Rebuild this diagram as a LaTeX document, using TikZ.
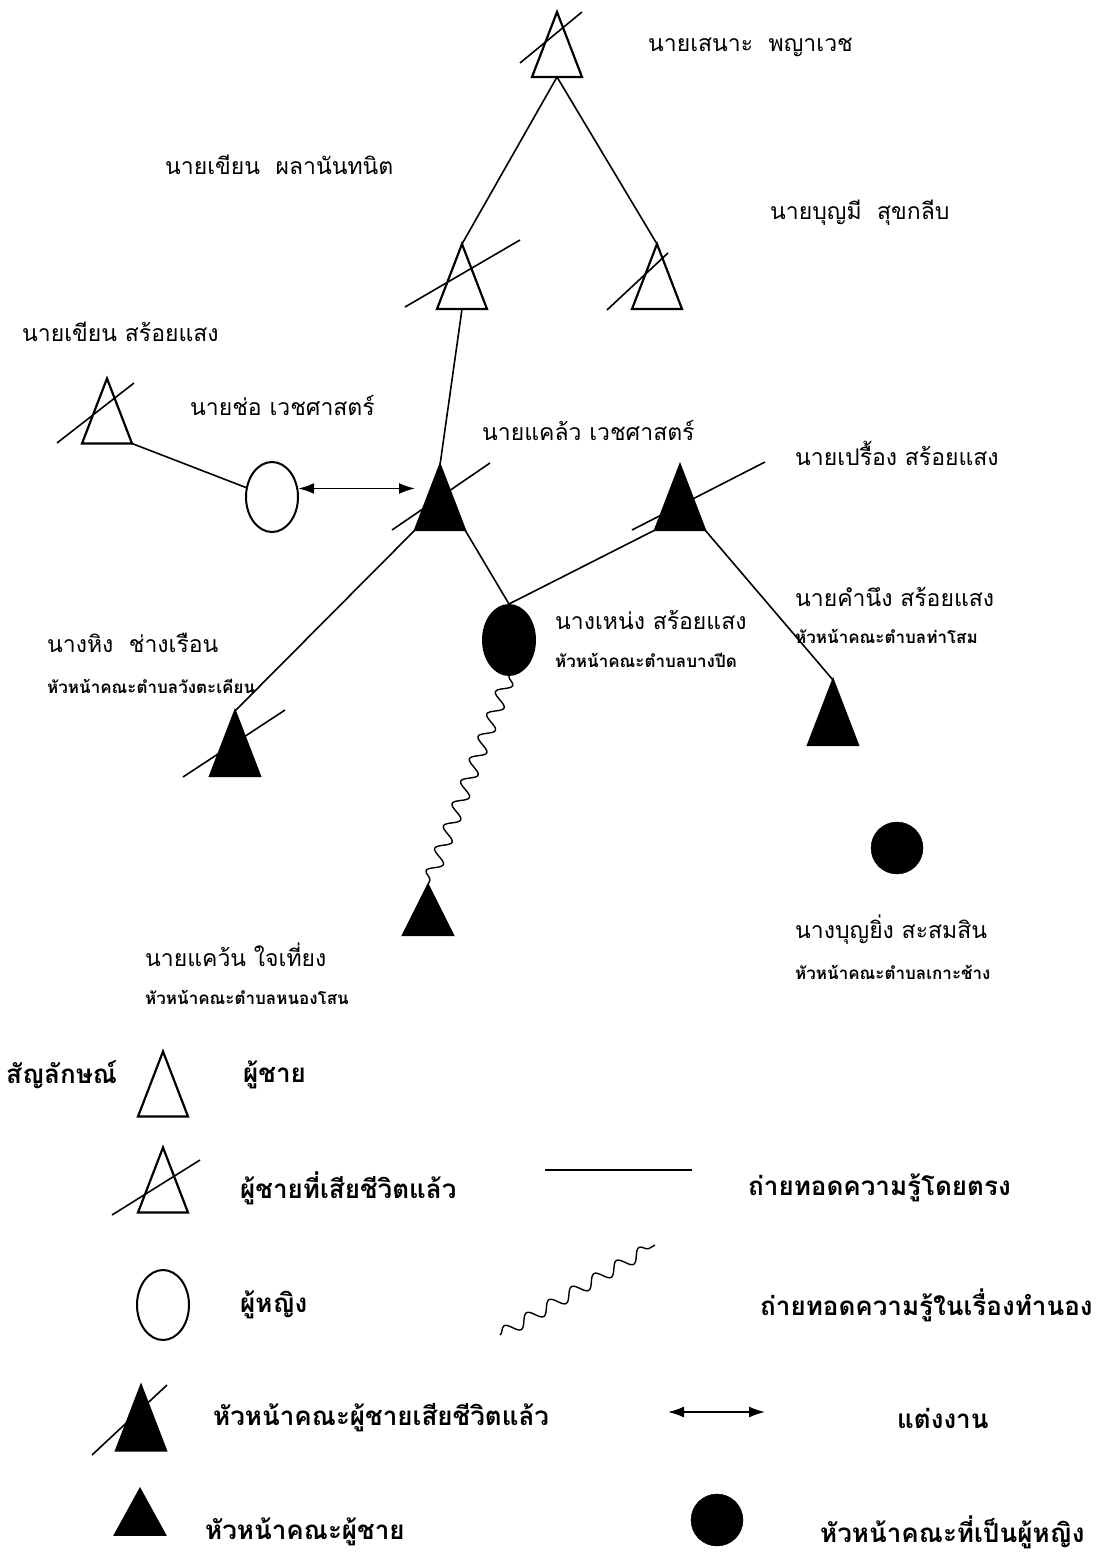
\documentclass[tikz,border=0pt]{standalone}
\usepackage{fontspec}
\newfontfamily\thai[Script=Thai]{Loma}
\usetikzlibrary{shapes.geometric,decorations.pathmorphing,arrows.meta}

\tikzset{
  man/.pic={
    \coordinate (-c) at (0,0);
    \coordinate (-a) at (0,-32.5);
    \coordinate (-l) at (-25,32.5);
    \coordinate (-r) at (25,32.5);
    \coordinate (-b) at (0,32.5);
    \draw[line width=2.2pt,line join=miter,pic actions] (-a) -- (-r) -- (-l) -- cycle;
  },
  strike/.style={line width=1.6pt},
  link/.style={line width=1.6pt},
  wed/.style={line width=1.6pt,{Latex[length=16pt,width=11pt]}-{Latex[length=16pt,width=11pt]}},
  wave/.style={line width=1.4pt,decorate,
    decoration={snake,amplitude=7pt,segment length=24pt}},
  lbl/.style={anchor=west,inner sep=0pt,font=\thai\fontsize{23}{27}\selectfont},
  sub/.style={anchor=west,inner sep=0pt,font=\thai\bfseries\fontsize{17}{20}\selectfont},
  key/.style={anchor=west,inner sep=0pt,font=\thai\bfseries\fontsize{26}{30}\selectfont},
  woman/.style={ellipse,draw,line width=2pt,minimum width=52pt,minimum height=70pt,inner sep=0pt},
}

\begin{document}
\begin{tikzpicture}[x=1pt,y=-1pt]
\useasboundingbox (0,0) rectangle (1106,1553);

\pic (sn) at (557,44.5) {man};
\pic (kp) at (462,276.5) {man};
\pic (bs) at (657,276.5) {man};
\pic (ks) at (107,411) {man};
\pic[fill=black] (kw) at (440,497.5) {man};
\pic[fill=black] (pr) at (680,497.5) {man};
\pic[fill=black] (hg) at (235,743.5) {man};
\pic[fill=black] (kn) at (833,712.5) {man};
\pic[fill=black,yscale=0.77] (kv) at (428,910) {man};

\node (cho) at (272,497) [woman] {};
\node (nh) at (509,640) [woman,fill=black] {};
\node (by) at (897,848) [circle,draw,fill=black,minimum size=52pt,inner sep=0pt] {};

\draw[strike] (sn-c) ++(-37,18.5) -- ++(62,-51);
\draw[strike] (kp-c) ++(-57,30.5) -- ++(115,-67);
\draw[strike] (bs-c) ++(-50,33.5) -- ++(61,-57);
\draw[strike] (ks-c) ++(-50,32) -- ++(77,-60);
\draw[strike] (kw-c) ++(-48,32.5) -- ++(98,-67);
\draw[strike] (pr-c) ++(-48,32.5) -- ++(133,-68);
\draw[strike] (hg-c) ++(-52,33.5) -- ++(102,-67);

\draw[link] (sn-b) -- (kp-a);
\draw[link] (sn-b) -- (bs-a);
\draw[link] (kp-b) -- (kw-a);
\draw[link] (ks-r) -- (cho.160);
\draw[wed] (cho.18) -- (cho.18 -| kw-l);
\draw[link] (kw-r) -- (nh.north);
\draw[link] (nh.north) -- (pr-l);
\draw[link] (pr-r) -- (kn-a);
\draw[link] (kw-l) -- (hg-a);
\draw[wave] (nh.south) -- (kv-a);

\node (lsn) at (648,47) [lbl] {นายเสนาะ\ \ พญาเวช};
\node (lkp) at (165,165) [lbl] {นายเขียน\ \ ผลานันทนิต};
\node (lbs) at (770,213) [lbl] {นายบุญมี\ \ สุขกลีบ};
\node (lks) at (22,332) [lbl] {นายเขียน สร้อยแสง};
\node (lcho) at (190,405) [lbl] {นายช่อ เวชศาสตร์};
\node (lkw) at (482,430) [lbl] {นายแคล้ว เวชศาสตร์};
\node (lpr) at (795,453) [lbl] {นายเปรื้อง สร้อยแสง};
\node (lkn) at (795,597) [lbl] {นายคำนึง สร้อยแสง};
\node (skn) at (795,636) [sub] {หัวหน้าคณะตำบลท่าโสม};
\node (lhg) at (47,643) [lbl] {นางหิง\ \ ช่างเรือน};
\node (shg) at (47,686) [sub] {หัวหน้าคณะตำบลวังตะเคียน};
\node (lnh) at (555,620) [lbl] {นางเหน่ง สร้อยแสง};
\node (snh) at (555,660) [sub] {หัวหน้าคณะตำบลบางปีด};
\node (lkv) at (145,955) [lbl] {นายแคว้น ใจเที่ยง};
\node (skv) at (145,997) [sub] {หัวหน้าคณะตำบลหนองโสน};
\node (lby) at (795,930) [lbl] {นางบุญยิ่ง สะสมสิน};
\node (sby) at (795,972) [sub] {หัวหน้าคณะตำบลเกาะช้าง};

\pic (k1) at (163,1084) {man};
\pic (k2) at (163,1180) {man};
\draw[strike] (k2-c) ++(-51,35) -- ++(88,-55);
\node (k3) at (163,1305) [woman] {};
\pic[fill=black] (k4) at (141,1418) {man};
\draw[strike] (k4-c) ++(-49,37) -- ++(75,-70);
\pic[fill=black,yscale=0.7] (k5) at (140,1512) {man};

\coordinate (d1) at (545,1170);
\coordinate (d2) at (692,1170);
\draw[link] (d1) -- (d2);
\coordinate (w1) at (500,1335);
\coordinate (w2) at (655,1245);
\draw[wave,decoration={amplitude=6pt,segment length=26pt}] (w1) -- (w2);
\coordinate (m1) at (668,1412);
\coordinate (m2) at (765,1412);
\draw[wed] (m1) -- (m2);
\node (k6) at (717,1520) [circle,draw,fill=black,minimum size=52pt,inner sep=0pt] {};

\node (t0) at (6,1075) [key] {สัญลักษณ์};
\node (t1) at (243,1075) [key] {ผู้ชาย};
\node (t2) at (240,1188) [key] {ผู้ชายที่เสียชีวิตแล้ว};
\node (t3) at (748,1188) [key] {ถ่ายทอดความรู้โดยตรง};
\node (t4) at (240,1305) [key] {ผู้หญิง};
\node (t5) at (760,1305) [key] {ถ่ายทอดความรู้ในเรื่องทำนอง};
\node (t6) at (213,1418) [key] {หัวหน้าคณะผู้ชายเสียชีวิตแล้ว};
\node (t7) at (897,1418) [key] {แต่งงาน};
\node (t8) at (205,1532) [key] {หัวหน้าคณะผู้ชาย};
\node (t9) at (820,1532) [key] {หัวหน้าคณะที่เป็นผู้หญิง};
\end{tikzpicture}
\end{document}
